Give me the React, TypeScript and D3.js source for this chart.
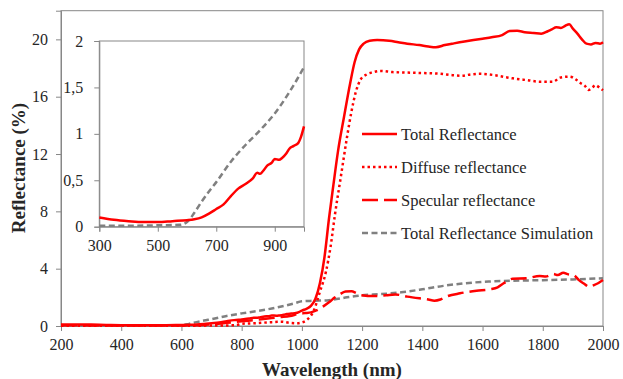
import { useEffect, useRef } from "react";
import * as d3 from "d3";

// [wavelength nm, reflectance %]
const totalReflectance: [number, number][] = [
  [200, 0.1], [250, 0.11], [300, 0.1], [350, 0.075], [400, 0.06], [450, 0.05],
  [500, 0.05], [550, 0.06], [600, 0.07], [625, 0.08], [650, 0.1], [675, 0.14],
  [700, 0.19], [725, 0.24], [750, 0.33], [775, 0.41], [800, 0.46], [825, 0.52],
  [840, 0.58], [850, 0.57], [860, 0.6], [875, 0.66], [890, 0.69], [900, 0.73],
  [915, 0.72], [925, 0.74], [940, 0.79], [950, 0.84], [965, 0.87], [980, 0.9],
  [990, 0.97], [1000, 1.08], [1015, 1.2], [1030, 1.4], [1045, 1.9], [1060, 3.0],
  [1075, 4.8], [1090, 7.5], [1105, 9.9], [1120, 12.2], [1140, 14.6], [1160, 16.9],
  [1175, 18.4], [1190, 19.3], [1205, 19.7], [1225, 19.9], [1250, 19.95],
  [1290, 19.9], [1320, 19.8], [1350, 19.7], [1390, 19.6], [1420, 19.5],
  [1445, 19.45], [1475, 19.6], [1505, 19.72], [1540, 19.85], [1570, 19.95],
  [1600, 20.05], [1630, 20.15], [1665, 20.3], [1690, 20.58], [1715, 20.6],
  [1740, 20.5], [1770, 20.45], [1795, 20.4], [1815, 20.55], [1830, 20.7],
  [1845, 20.85], [1860, 20.8], [1875, 20.95], [1888, 21.05], [1900, 20.75],
  [1915, 20.4], [1930, 20.0], [1945, 19.7], [1960, 19.65], [1975, 19.75],
  [1990, 19.7], [2000, 19.8],
];

const diffuseReflectance: [number, number][] = [
  [200, 0.02], [400, 0.02], [600, 0.02], [700, 0.03], [780, 0.05], [800, 0.15],
  [850, 0.2], [900, 0.27], [930, 0.3], [960, 0.22], [985, 0.19], [1000, 0.25],
  [1015, 0.4], [1040, 1.1], [1060, 2.4], [1080, 3.8], [1095, 5.5], [1110, 7.8],
  [1130, 10.5], [1150, 13.2], [1165, 15.0], [1180, 16.4], [1195, 17.2],
  [1215, 17.55], [1235, 17.7], [1260, 17.8], [1300, 17.72], [1350, 17.68],
  [1400, 17.65], [1460, 17.6], [1500, 17.5], [1530, 17.46], [1560, 17.55],
  [1590, 17.6], [1640, 17.5], [1680, 17.35], [1700, 17.28], [1750, 17.15],
  [1790, 17.05], [1835, 17.05], [1857, 17.33], [1890, 17.4], [1910, 17.2],
  [1925, 16.95], [1940, 16.75], [1952, 16.47], [1965, 16.65], [1975, 16.8],
  [1990, 16.6], [2000, 16.45],
];

const specularReflectance: [number, number][] = [
  [200, 0.06], [300, 0.04], [400, 0.03], [500, 0.03], [600, 0.04], [650, 0.06],
  [700, 0.12], [750, 0.22], [800, 0.33], [850, 0.43], [880, 0.5], [900, 0.55],
  [930, 0.62], [960, 0.7], [990, 0.85], [1010, 0.9], [1030, 0.95], [1050, 1.1],
  [1070, 1.35], [1090, 1.65], [1110, 2.0], [1125, 2.2], [1145, 2.4], [1165, 2.42],
  [1180, 2.3], [1195, 2.16], [1240, 2.09], [1280, 2.15], [1310, 2.2], [1350, 2.05],
  [1390, 1.93], [1420, 1.85], [1440, 1.77], [1460, 1.85], [1480, 2.05],
  [1525, 2.28], [1580, 2.46], [1625, 2.56], [1650, 2.7], [1670, 2.98], [1700, 3.3],
  [1745, 3.33], [1790, 3.49], [1810, 3.45], [1835, 3.63], [1850, 3.55],
  [1868, 3.72], [1885, 3.6], [1902, 3.56], [1920, 3.2], [1935, 2.98], [1955, 2.74],
  [1970, 2.85], [1985, 3.0], [2000, 3.21],
];

const simulation: [number, number][] = [
  [200, 0.01], [300, 0.01], [400, 0.01], [500, 0.015], [575, 0.02], [600, 0.05],
  [625, 0.15], [650, 0.27], [675, 0.38], [700, 0.48], [750, 0.7], [800, 0.88],
  [850, 1.04], [900, 1.22], [950, 1.45], [975, 1.58], [1000, 1.72], [1040, 1.76],
  [1090, 1.8], [1150, 2.0], [1200, 2.14], [1260, 2.22], [1330, 2.35], [1400, 2.56],
  [1470, 2.8], [1540, 2.98], [1620, 3.1], [1700, 3.16], [1800, 3.2], [1900, 3.25],
  [2000, 3.33],
];

const xTicks = [200, 400, 600, 800, 1000, 1200, 1400, 1600, 1800, 2000];
const yTicks = [0, 4, 8, 12, 16, 20];
const insetXTicks = [300, 500, 700, 900];
const insetYTicks = [0, 0.5, 1, 1.5, 2];

const RED = "#ff0000";
const GRAY = "#808080";
const AXIS = "#878787";
const TEXT = "#262626";
const FONT = "Liberation Serif";

const styles = {
  total: { color: RED, dash: null as string | null },
  diffuse: { color: RED, dash: "2.5 3" },
  specular: { color: RED, dash: "16 6" },
  sim: { color: GRAY, dash: "6 3.5" },
};

export default function App() {
  const svgRef = useRef<SVGSVGElement>(null);

  useEffect(() => {
    if (!svgRef.current) return;
    const svg = d3.select(svgRef.current);
    svg.selectAll("*").remove();

    const x = d3.scaleLinear().domain([200, 2000]).range([61, 603]);
    const y = d3.scaleLinear().domain([0, 22]).range([326, 10.7]);

    // plot frame
    svg
      .append("rect")
      .attr("x", 61)
      .attr("y", 10.7)
      .attr("width", 542)
      .attr("height", 315.3)
      .attr("fill", "none")
      .attr("stroke", AXIS)
      .attr("stroke-width", 1);

    const styleAxis = (g: d3.Selection<SVGGElement, unknown, null, undefined>) => {
      g.attr("font-family", FONT).attr("font-size", 16);
      g.select(".domain").attr("stroke", AXIS);
      g.selectAll(".tick line").attr("stroke", AXIS);
      g.selectAll(".tick text").attr("fill", TEXT);
    };

    const intFmt = d3.format("d");

    // X Axis
    svg
      .append("g")
      .attr("transform", "translate(0,326)")
      .call(
        d3.axisBottom(x).tickValues(xTicks).tickFormat(intFmt).tickSizeOuter(0).tickSize(5).tickPadding(8)
      )
      .call(styleAxis);

    // Y Axis
    svg
      .append("g")
      .attr("transform", "translate(61,0)")
      .call(
        d3.axisLeft(y).tickValues(yTicks).tickFormat(intFmt).tickSizeOuter(0).tickSize(5).tickPadding(8)
      )
      .call(styleAxis);

    const line = (sx: d3.ScaleLinear<number, number>, sy: d3.ScaleLinear<number, number>) =>
      d3
        .line<[number, number]>()
        .x((d) => sx(d[0]))
        .y((d) => sy(d[1]))
        .curve(d3.curveMonotoneX);

    const drawSeries = (
      parent: d3.Selection<SVGGElement, unknown, null, undefined>,
      data: [number, number][],
      st: { color: string; dash: string | null },
      gen: d3.Line<[number, number]>
    ) => {
      parent
        .append("path")
        .datum(data)
        .attr("d", gen)
        .attr("fill", "none")
        .attr("stroke", st.color)
        .attr("stroke-width", 2.5)
        .attr("stroke-dasharray", st.dash)
        .attr("stroke-linejoin", "round");
    };

    const main = svg.append("g");
    const mainLine = line(x, y);
    drawSeries(main, simulation, styles.sim, mainLine);
    drawSeries(main, specularReflectance, styles.specular, mainLine);
    drawSeries(main, diffuseReflectance, styles.diffuse, mainLine);
    drawSeries(main, totalReflectance, styles.total, mainLine);

    // Legend
    const legendItems = [
      { label: "Total Reflectance", st: styles.total },
      { label: "Diffuse reflectance", st: styles.diffuse },
      { label: "Specular reflectance", st: styles.specular },
      { label: "Total Reflectance Simulation", st: styles.sim },
    ];
    const legend = svg.append("g").attr("transform", "translate(362,134)");
    legendItems.forEach((item, i) => {
      const row = legend.append("g").attr("transform", `translate(0,${i * 33})`);
      row
        .append("line")
        .attr("x1", 0)
        .attr("x2", 35)
        .attr("stroke", item.st.color)
        .attr("stroke-width", 2.5)
        .attr("stroke-dasharray", item.st.dash);
      row
        .append("text")
        .attr("x", 39)
        .attr("dy", "0.35em")
        .attr("fill", TEXT)
        .attr("font-family", FONT)
        .attr("font-size", 16.5)
        .text(item.label);
    });

    // Inset
    const xi = d3.scaleLinear().domain([300, 1000]).range([99.3, 304]);
    const yi = d3.scaleLinear().domain([0, 2]).range([226.7, 41]);
    const inset = svg.append("g");
    inset
      .append("rect")
      .attr("x", 99.3)
      .attr("y", 41)
      .attr("width", 204.7)
      .attr("height", 185.7)
      .attr("fill", "#fff")
      .attr("stroke", AXIS);

    inset
      .append("g")
      .attr("transform", "translate(0,226.7)")
      .call(
        d3.axisBottom(xi).tickValues(insetXTicks).tickFormat(intFmt).tickSizeOuter(0).tickSize(5).tickPadding(8)
      )
      .call(styleAxis);

    const commaFmt = (v: d3.NumberValue) => String(+v).replace(".", ",");
    inset
      .append("g")
      .attr("transform", "translate(99.3,0)")
      .call(
        d3
          .axisLeft(yi)
          .tickValues(insetYTicks)
          .tickFormat(commaFmt)
          .tickSizeOuter(0)
          .tickSize(5)
          .tickPadding(11)
      )
      .call(styleAxis);

    const insetLine = line(xi, yi);
    const inRange = (d: [number, number]) => d[0] >= 300 && d[0] <= 1000;
    drawSeries(inset, simulation.filter(inRange), styles.sim, insetLine);
    drawSeries(inset, totalReflectance.filter(inRange), styles.total, insetLine);

    // Axis titles
    svg
      .append("text")
      .attr("x", 332)
      .attr("y", 376)
      .attr("text-anchor", "middle")
      .attr("fill", TEXT)
      .attr("font-family", FONT)
      .attr("font-size", 19)
      .attr("font-weight", "bold")
      .text("Wavelength  (nm)");

    svg
      .append("text")
      .attr("transform", "translate(25,168) rotate(-90)")
      .attr("text-anchor", "middle")
      .attr("fill", TEXT)
      .attr("font-family", FONT)
      .attr("font-size", 19)
      .attr("font-weight", "bold")
      .text("Reflectance (%)");
  }, []);

  return (
    <svg
      ref={svgRef}
      width={623}
      height={379}
      style={{ position: "absolute", left: 0, top: 0, background: "#fff" }}
    />
  );
}
